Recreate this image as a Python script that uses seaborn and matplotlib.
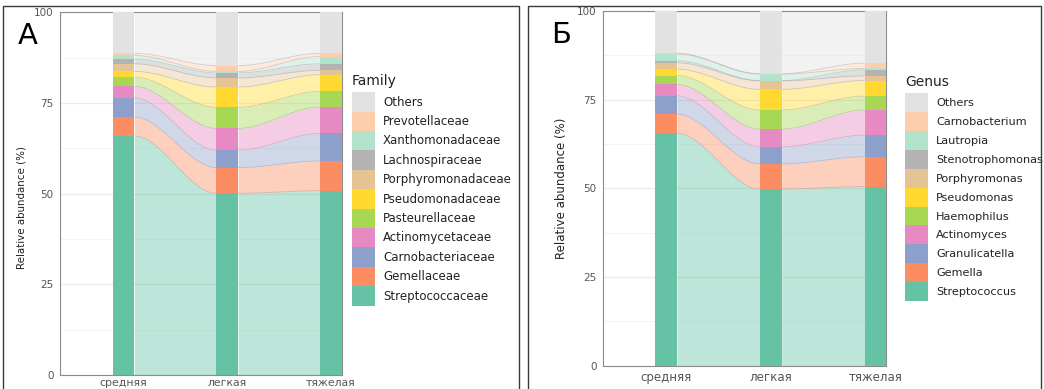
import numpy as np
import matplotlib
matplotlib.use("Agg")
import matplotlib.pyplot as plt
from matplotlib.patches import Patch, Rectangle
import seaborn as sns

sns.set_style("white")
plt.rcParams['font.family'] = ['DejaVu Sans']

# ---------------- data ----------------
categories = ["средняя", "легкая", "тяжелая"]

family_names = ["Streptococcaceae", "Gemellaceae", "Carnobacteriaceae", "Actinomycetaceae",
                "Pasteurellaceae", "Pseudomonadaceae", "Porphyromonadaceae", "Lachnospiraceae",
                "Xanthomonadaceae", "Prevotellaceae", "Others"]
fam_streptococcaceae = [65.9, 50.1, 50.8]
fam_gemellaceae = [5.2, 7.1, 8.2]
fam_carnobacteriaceae = [5.3, 4.8, 7.6]
fam_actinomycetaceae = [3.2, 6.0, 7.3]
fam_pasteurellaceae = [2.5, 5.8, 4.3]
fam_pseudomonadaceae = [1.6, 5.6, 4.6]
fam_porphyromonadaceae = [2.1, 2.5, 1.2]
fam_lachnospiraceae = [1.3, 1.4, 1.8]
fam_xanthomonadaceae = [1.0, 0.4, 2.0]
fam_prevotellaceae = [0.6, 1.6, 0.9]
fam_others = [11.3, 14.7, 11.3]

genus_names = ["Streptococcus", "Gemella", "Granulicatella", "Actinomyces", "Haemophilus",
               "Pseudomonas", "Porphyromonas", "Stenotrophomonas", "Lautropia",
               "Carnobacterium", "Others"]
gen_streptococcus = [65.5, 49.8, 50.5]
gen_gemella = [5.4, 7.1, 8.4]
gen_granulicatella = [5.2, 4.8, 6.1]
gen_actinomyces = [3.2, 5.0, 7.1]
gen_haemophilus = [2.5, 5.4, 3.9]
gen_pseudomonas = [1.8, 5.8, 4.4]
gen_porphyromonas = [1.8, 2.4, 1.3]
gen_stenotrophomonas = [0.6, 0.1, 1.7]
gen_lautropia = [1.9, 1.8, 0.4]
gen_carnobacterium = [0.2, 0.1, 1.5]
gen_others = [11.9, 17.6, 14.7]

palette = ["#66c2a5", "#fc8d62", "#8da0cb", "#e78ac3", "#a6d854", "#ffd92f",
           "#e5c494", "#b3b3b3", "#b3e2cd", "#fdcdac", "#e2e2e2"]

family_values = [fam_streptococcaceae, fam_gemellaceae, fam_carnobacteriaceae,
                 fam_actinomycetaceae, fam_pasteurellaceae, fam_pseudomonadaceae,
                 fam_porphyromonadaceae, fam_lachnospiraceae, fam_xanthomonadaceae,
                 fam_prevotellaceae, fam_others]
genus_values = [gen_streptococcus, gen_gemella, gen_granulicatella, gen_actinomyces,
                gen_haemophilus, gen_pseudomonas, gen_porphyromonas, gen_stenotrophomonas,
                gen_lautropia, gen_carnobacterium, gen_others]

W, H = 1044, 389
fig = plt.figure(figsize=(W / 100, H / 100), dpi=100)


def px_axes(l, t, r, b):
    return fig.add_axes([l / W, 1 - b / H, (r - l) / W, (b - t) / H])


def alluvial(ax, names, values, xlim, title, legend_xy, letter_xy, letter,
             key_h_px, xtick_fs, xtick_pad, ylab_fs, ylab_pos, leg_fs):
    bw = 0.21
    vals = np.array(values, dtype=float)
    cum_top = np.cumsum(vals, axis=0)
    cum_bot = cum_top - vals
    n = len(names)

    # grid
    for yv in [0, 25, 50, 75, 100]:
        ax.axhline(yv, color="#ebebeb", lw=0.9, zorder=0)
    for yv in [12.5, 37.5, 62.5, 87.5]:
        ax.axhline(yv, color="#f4f4f4", lw=0.7, zorder=0)

    # stacked bars (drawn from the tallest cumulative downwards)
    for k in range(n - 1, -1, -1):
        sns.barplot(x=categories, y=cum_top[k], order=categories, color=palette[k],
                    width=bw, saturation=1, errorbar=None, linewidth=0, ax=ax, zorder=3)

    # flows
    t = np.linspace(0, 1, 80)
    s = 3 * t ** 2 - 2 * t ** 3
    for k in range(n):
        for i in range(len(categories) - 1):
            x0, x1 = i + bw / 2, i + 1 - bw / 2
            xs = x0 + (x1 - x0) * t
            lo = cum_bot[k, i] + (cum_bot[k, i + 1] - cum_bot[k, i]) * s
            hi = cum_top[k, i] + (cum_top[k, i + 1] - cum_top[k, i]) * s
            ax.fill_between(xs, lo, hi, color=palette[k], alpha=0.42, lw=0, zorder=2)
            if k > 0:
                ax.plot(xs, lo, color="#8a8a8a", alpha=0.35, lw=0.6, zorder=2.5)

    ax.set_xlim(*xlim)
    ax.set_ylim(0, 100)
    ax.set_yticks([0, 25, 50, 75, 100])
    ax.set_yticklabels(["0", "25", "50", "75", "100"])
    ax.set_xticks(range(len(categories)))
    ax.set_xticklabels(categories)
    ax.set_xlabel("")
    ax.set_ylabel("Relative abundance (%)", fontsize=ylab_fs, color="#222222")
    ax.yaxis.set_label_coords(*ylab_pos)
    ax.tick_params(axis="y", length=3, width=0.7, color="#888888",
                   labelsize=7.5, labelcolor="#555555", pad=1.5)
    ax.tick_params(axis="x", length=2, width=0.7, color="#888888",
                   labelsize=xtick_fs, labelcolor="#555555", pad=xtick_pad)
    for sp in ax.spines.values():
        sp.set_color("#8c8c8c")
        sp.set_linewidth(0.8)
    ax.grid(False)

    handles = [Patch(facecolor=palette[k], edgecolor="none") for k in range(n - 1, -1, -1)]
    labels = [names[k] for k in range(n - 1, -1, -1)]
    fs = leg_fs
    key_pt = key_h_px * 72 / 100
    hh = (key_pt / fs - 0.245) / 0.65
    fs_px = fs * 100 / 72
    leg = ax.legend(handles, labels, title=title, loc="upper left",
                    bbox_to_anchor=(legend_xy[0] / W, 1 - legend_xy[1] / H),
                    bbox_transform=fig.transFigure, frameon=False, fontsize=fs,
                    title_fontsize=10, borderpad=0, borderaxespad=0, labelspacing=0,
                    handleheight=hh, handlelength=23 / fs_px,
                    handletextpad=8 / fs_px, alignment="left")
    leg._legend_box.sep = 3.0
    for txt in leg.get_texts():
        txt.set_color("#222222")
    leg.get_title().set_color("#222222")

    fig.text(letter_xy[0] / W, 1 - letter_xy[1] / H, letter, fontsize=21,
             color="black", ha="left", va="baseline")


axA = px_axes(60, 12.3, 342, 375)
alluvial(axA, family_names, family_values, (-0.612, 2.106), "Family",
         (352, 74), (18, 44), "А", 19.4, 7.8, 0.5, 7.4, (-0.12, 0.463), 8.5)

axB = px_axes(603, 11, 886, 365.7)
alluvial(axB, genus_names, genus_values, (-0.601, 2.1), "Genus",
         (905, 75), (551, 43), "Б", 18.9, 8.5, 1.5, 8.5, (-0.124, 0.5), 8.1)

# panel frames
fig.add_artist(Rectangle((3 / W, -0.05), (519 - 3) / W, 1.05 - 6 / H,
                         transform=fig.transFigure, fill=False, ec="#3a3a3a", lw=1.0))
fig.add_artist(Rectangle((528 / W, -0.05), (1041 - 528) / W, 1.05 - 6 / H,
                         transform=fig.transFigure, fill=False, ec="#3a3a3a", lw=1.0))

fig.savefig("out.png", dpi=100)
